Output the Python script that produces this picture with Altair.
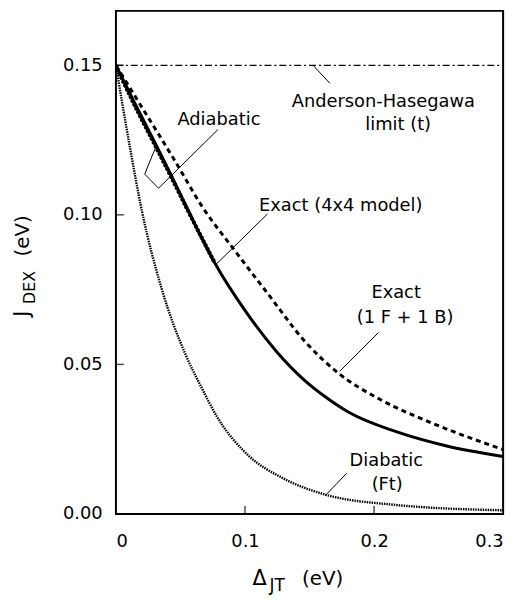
import altair as alt
import pandas as pd

# ---------------- data ----------------
exact4_x = [0, 0.015, 0.0292, 0.0422, 0.0545, 0.0767, 0.0997, 0.125, 0.1466, 0.1611, 0.1811, 0.2171, 0.2555, 0.3]
exact4_y = [0.15, 0.137, 0.1250, 0.1138, 0.1028, 0.0838, 0.0682, 0.054, 0.0445, 0.0395, 0.0338, 0.0275, 0.0228, 0.0192]

exact1_x = [0, 0.0238, 0.0445, 0.0675, 0.092, 0.1174, 0.1466, 0.1734, 0.2041, 0.2425, 0.3]
exact1_y = [0.15, 0.1334, 0.1189, 0.1023, 0.0881, 0.0738, 0.0576, 0.0467, 0.0384, 0.0308, 0.0215]

adiab_x = [0, 0.015, 0.0292, 0.0422, 0.0545, 0.0767]
adiab_y = [0.1497, 0.1362, 0.1242, 0.1132, 0.1025, 0.0838]

diab_x = [0, 0.0046, 0.0115, 0.020, 0.0353, 0.0537, 0.066, 0.079, 0.102, 0.130, 0.161, 0.217, 0.3]
diab_y = [0.15, 0.138, 0.121, 0.1015, 0.0755, 0.0535, 0.0425, 0.032, 0.0198, 0.0118, 0.0066, 0.0030, 0.0012]

ah_x = [0, 0.3]
ah_y = [0.15, 0.15]

x_tick_values = [0, 0.1, 0.2, 0.3]
y_tick_values = [0, 0.05, 0.10, 0.15]
x_inner_ticks = [0.1, 0.2]
y_inner_ticks = [0.05, 0.10, 0.15]

label_text = ["Anderson-Hasegawa", "limit (t)", "Adiabatic", "Exact (4x4 model)",
              "Exact", "(1 F + 1 B)", "Diabatic", "(Ft)"]
label_x = [0.2072, 0.2187, 0.0798, 0.1742, 0.2171, 0.2240, 0.2095, 0.2102]
label_y = [0.1361, 0.1285, 0.1301, 0.1013, 0.0722, 0.0637, 0.0159, 0.0079]

lead_x = [0.1527, 0.0307, 0.0223, 0.0330, 0.1174, 0.2033, 0.1788]
lead_y = [0.1500, 0.1225, 0.1136, 0.1089, 0.1003, 0.0606, 0.0136]
lead_x2 = [0.1657, 0.0223, 0.0330, 0.0790, 0.0775, 0.1734, 0.1619]
lead_y2 = [0.1440, 0.1136, 0.1089, 0.1285, 0.0834, 0.0477, 0.0060]

FONT = "DejaVu Sans"

xscale = alt.Scale(domain=[0, 0.3], nice=False)
yscale = alt.Scale(domain=[0, 0.1682], nice=False)

X = alt.X("x:Q", scale=xscale,
          axis=alt.Axis(values=x_tick_values, format="~g", title=None, grid=False,
                        ticks=False, tickSize=0, domain=False, labelPadding=19,
                        labelFontSize=18, labelFont=FONT, labelColor="black"))
Y = alt.Y("y:Q", scale=yscale,
          axis=alt.Axis(values=y_tick_values, format=".2f", title=None, grid=False,
                        ticks=False, tickSize=0, domain=False, labelPadding=14,
                        labelFontSize=18, labelFont=FONT, labelColor="black"))


def line(xs, ys, **kw):
    return alt.Chart(pd.DataFrame({"x": xs, "y": ys})).mark_line(
        color="black", clip=True, **kw).encode(x=X, y=Y)


ah = line(ah_x, ah_y, strokeWidth=1.2, strokeDash=[7, 3, 2, 3])
diab = line(diab_x, diab_y, interpolate="monotone", strokeWidth=2.4, strokeDash=[1.5, 1])
exact1 = line(exact1_x, exact1_y, interpolate="monotone", strokeWidth=3, strokeDash=[5, 4])
adiab = line(adiab_x, adiab_y, interpolate="monotone", strokeWidth=4.2,
             strokeDash=[0.1, 4.2], strokeCap="round")
exact4 = line(exact4_x, exact4_y, interpolate="monotone", strokeWidth=3)

xt = alt.Chart(pd.DataFrame({"x": x_inner_ticks})).mark_tick(
    color="black", size=8, thickness=1.5).encode(x=X, y=alt.value(504))
yt = alt.Chart(pd.DataFrame({"y": y_inner_ticks})).mark_tick(
    color="black", size=8, thickness=1.5).encode(y=Y, x=alt.value(4))

labels = alt.Chart(pd.DataFrame({"x": label_x, "y": label_y, "t": label_text})).mark_text(
    font=FONT, fontSize=18, align="center", baseline="alphabetic", color="black"
).encode(x=X, y=Y, text="t:N")

leads = alt.Chart(pd.DataFrame({"x": lead_x, "y": lead_y, "x2": lead_x2, "y2": lead_y2})).mark_rule(
    color="black", strokeWidth=1).encode(x=X, y=Y, x2="x2:Q", y2="y2:Q")

one = alt.Data(values=[{}])


def txt(s, x, y, size, angle=0):
    return alt.Chart(one).mark_text(
        text=s, font=FONT, fontSize=size, align="left", baseline="alphabetic",
        color="black", angle=angle).encode(x=alt.value(x), y=alt.value(y))


ytitle = [txt("J", -88, 309, 21, 270), txt("DEX", -82, 296, 16, 270), txt("(eV)", -88, 248, 20, 270)]
xtitle = [txt("Δ", 138, 580, 21), txt("JT", 155, 586, 17), txt("(eV)", 188, 580, 20)]

chart = alt.layer(
    ah, diab, exact1, adiab, exact4, xt, yt, leads, labels, *ytitle, *xtitle
).properties(
    width=391, height=508,
    padding={"left": 109, "top": 0, "right": 13, "bottom": 80},
    autosize=alt.AutoSizeParams(type="none"),
    background="white",
).configure_view(stroke="black", strokeWidth=2)

chart.save("out.html", embed_options={"renderer": "svg", "actions": False})
